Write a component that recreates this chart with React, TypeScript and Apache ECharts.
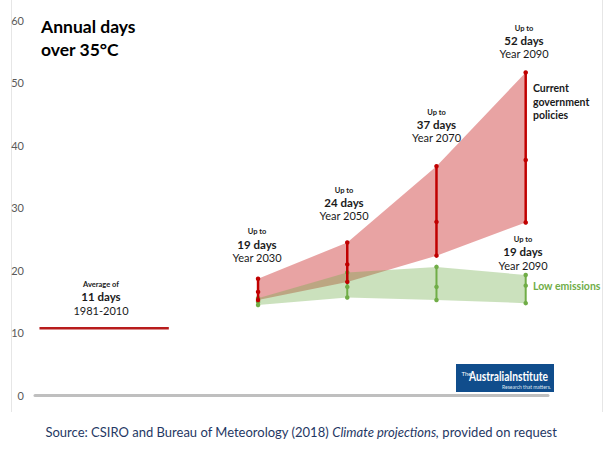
import React, { useEffect, useRef } from "react";
import * as echarts from "echarts";

// ---- data ----
const projectionYears = [2030, 2050, 2070, 2090];
const policyLow = [15.2, 18.1, 22.3, 27.6];
const policyMid = [16.5, 20.9, 27.7, 37.6];
const policyHigh = [18.6, 24.4, 36.6, 51.6];
const lowEmLow = [14.4, 15.6, 15.2, 14.7];
const lowEmMid = [14.9, 17.3, 17.3, 17.5];
const lowEmHigh = [15.5, 19.6, 20.5, 19.2];
const baselineYears = [1981, 2010];
const baselineValue = 10.7;
const policyDayLabels = ["19 days", "24 days", "37 days", "52 days"];
const yearLabels = ["Year 2030", "Year 2050", "Year 2070", "Year 2090"];
const lowEmDayLabel = "19 days";
const baselineLabels = ["Average of", "11 days", "1981-2010"];

const FONT = "Lato, 'Open Sans', sans-serif";
const RED = "#c00000";
const GREEN = "#70ad47";

function stackLabel(x: number, ys: number[], texts: string[]) {
  const sizes = [7.5, 11.5, 11];
  const weights = ["bold", "bold", "normal"];
  return texts.map((t, i) => ({
    type: "text",
    x,
    y: ys[i],
    z: 50,
    style: {
      text: t,
      fontFamily: FONT,
      fontSize: sizes[i],
      lineHeight: sizes[i],
      fontWeight: weights[i],
      fill: "#1a1a1a",
      align: "center",
      verticalAlign: "middle",
    },
  }));
}

const App = () => {
  const ref = useRef<HTMLDivElement>(null);
  useEffect(() => {
    document.body.style.margin = "0";
    const chart = echarts.init(ref.current!, null, { renderer: "svg" });

    const band = (low: number[], high: number[], fill: string, z: number) => ({
      type: "custom",
      z,
      silent: true,
      data: projectionYears.map((y, i) => [y, low[i], high[i]]),
      encode: { x: 0, y: [1, 2] },
      renderItem: (params: any, api: any) => {
        if (params.dataIndex !== 0) return null;
        const top = projectionYears.map((y, i) => api.coord([y, high[i]]));
        const bot = projectionYears.map((y, i) => api.coord([y, low[i]])).reverse();
        return {
          type: "polygon",
          shape: { points: [...top, ...bot] },
          style: { fill },
        };
      },
    });

    const bars = (low: number[], mid: number[], high: number[], color: string, width: number, z: number) =>
      projectionYears.map((y, i) => ({
        type: "line",
        z,
        silent: true,
        data: [
          [y, low[i]],
          [y, mid[i]],
          [y, high[i]],
        ],
        symbol: "circle",
        symbolSize: 4.5,
        showSymbol: true,
        lineStyle: { color, width },
        itemStyle: { color },
      }));

    const positions2030 = [231.7, 244, 257.5];
    const positions2050 = [190.7, 202.7, 215.7];
    const positions2070 = [112.7, 124.5, 137.5];
    const positions2090 = [28.3, 40.5, 53.5];
    const labelX = [257, 344, 436.5, 524];
    const labelYs = [positions2030, positions2050, positions2070, positions2090];

    const graphic: any[] = [
      { type: "line", shape: { x1: 11.5, y1: 0, x2: 11.5, y2: 412 }, style: { stroke: "#e6e6e6", lineWidth: 1 } },
      { type: "line", shape: { x1: 602.5, y1: 0, x2: 602.5, y2: 412 }, style: { stroke: "#e6e6e6", lineWidth: 1 } },
      {
        type: "text", x: 41, y: 26.5,
        style: { text: "Annual days", fontFamily: FONT, fontSize: 17.5, lineHeight: 18, fontWeight: "bold", fill: "#000", verticalAlign: "middle" },
      },
      {
        type: "text", x: 41, y: 49.5,
        style: { text: "over 35°C", fontFamily: FONT, fontSize: 17.5, lineHeight: 18, fontWeight: "bold", fill: "#000", verticalAlign: "middle" },
      },
      ...stackLabel(101, [284, 296.7, 310], baselineLabels),
      ...projectionYears.flatMap((_, i) =>
        stackLabel(labelX[i], labelYs[i], ["Up to", policyDayLabels[i], yearLabels[i]])
      ),
      ...stackLabel(523, [239.5, 251.3, 265], ["Up to", lowEmDayLabel, yearLabels[3]]),
      ...["Current", "government", "policies"].map((t, i) => ({
        type: "text", x: 533, y: [88, 101.5, 115][i],
        style: { text: t, fontFamily: FONT, fontSize: 10.5, lineHeight: 11, fontWeight: "bold", fill: "#1a1a1a", verticalAlign: "middle" },
      })),
      {
        type: "text", x: 533, y: 285.5,
        style: { text: "Low emissions", fontFamily: FONT, fontSize: 10.5, fontWeight: "bold", fill: GREEN, verticalAlign: "middle" },
      },
      { type: "rect", shape: { x: 456, y: 364, width: 98, height: 28 }, style: { fill: "#104d8c" } },
      {
        type: "text", x: 461.5, y: 373,
        style: { text: "The", fontFamily: FONT, fontSize: 6, fill: "#fff", verticalAlign: "middle" },
      },
      {
        type: "text", x: 469, y: 376.5, scaleX: 0.82,
        style: { text: "AustraliaInstitute", fontFamily: FONT, fontSize: 12.5, fontWeight: "bold", fill: "#fff", verticalAlign: "middle" },
      },
      {
        type: "text", x: 551, y: 387,
        style: { text: "Research that matters.", fontFamily: FONT, fontSize: 5, fill: "#dfe8f2", align: "right", verticalAlign: "middle" },
      },
      {
        type: "text", x: 301, y: 432,
        style: {
          text: "{n|Source: CSIRO and Bureau of Meteorology (2018) }{i|Climate projections,}{n| provided on request}",
          align: "center",
          verticalAlign: "middle",
          rich: {
            n: { fontFamily: FONT, fontSize: 13, fill: "#1f3864" },
            i: { fontFamily: FONT, fontSize: 13, fontStyle: "italic", fill: "#1f3864" },
          },
        },
      },
    ];

    chart.setOption({
      animation: false,
      grid: { left: 35, right: 60, top: 20, bottom: 61, containLabel: false },
      xAxis: {
        type: "value",
        min: 1980,
        max: 2095,
        axisLine: { show: true, onZero: false, lineStyle: { color: "#bfbfbf", width: 3 } },
        axisTick: { show: false },
        axisLabel: { show: false },
        splitLine: { show: false },
      },
      yAxis: {
        type: "value",
        min: 0,
        max: 60,
        interval: 10,
        axisLine: { show: false },
        axisTick: { show: false },
        splitLine: { show: false },
        axisLabel: { color: "#595959", fontSize: 11, fontFamily: FONT, margin: 11 },
      },
      series: [
        band(policyLow, policyHigh, "rgba(192,0,0,0.36)", 1),
        band(lowEmLow, lowEmHigh, "rgba(112,173,71,0.36)", 2),
        ...bars(lowEmLow, lowEmMid, lowEmHigh, GREEN, 2, 3),
        ...bars(policyLow, policyMid, policyHigh, RED, 2.5, 4),
        {
          type: "line",
          z: 4,
          silent: true,
          data: baselineYears.map((y) => [y, baselineValue]),
          symbol: "none",
          lineStyle: { color: "#b81c1c", width: 2.5 },
        },
      ],
      graphic,
    });
    return () => chart.dispose();
  }, []);
  return <div ref={ref} style={{ position: "absolute", left: 0, top: 0, width: 608, height: 456 }} />;
};

export default App;
